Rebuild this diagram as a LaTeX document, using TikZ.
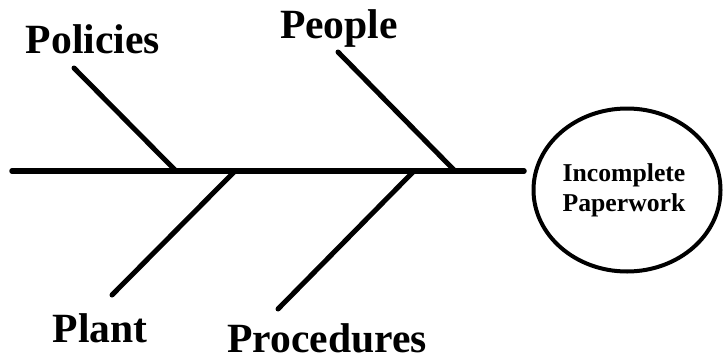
\documentclass[tikz,border=0pt]{standalone}
\usepackage{fontspec}
\setmainfont{Liberation Serif}
\usetikzlibrary{shapes.geometric}
\tikzset{
  bonelabel/.style={font=\fontsize{41.6}{44}\selectfont\bfseries, anchor=base, inner sep=0pt},
  bone/.style={line width=5pt, line cap=round},
  spine/.style={line width=5.5pt, line cap=round},
  effectbox/.style={draw, ellipse, line width=4pt, minimum width=187pt, minimum height=163pt, inner sep=0pt},
  effecttext/.style={align=center, inner sep=0pt, font=\fontsize{25.7}{30}\selectfont\bfseries}
}
\begin{document}
\begin{tikzpicture}[x=1pt,y=-1pt]
\useasboundingbox (0,0) rectangle (723,362);
% effect
\node[effectbox] (effect) at (627,190) {};
\node[effecttext] (effecttxt) at (624,190) {Incomplete\\Paperwork};
% spine
\coordinate (tail) at (12,171);
\coordinate (head) at (524,171);
\draw[spine] (tail) -- (head);
% labels
\node[bonelabel] (policies) at (93,53) {Policies};
\node[bonelabel] (people) at (339,38) {People};
\node[bonelabel] (plant) at (100,342) {Plant};
\node[bonelabel] (procedures) at (327,352) {Procedures};
% bone ends
\coordinate (polA) at (74,68);   \coordinate (polB) at (176,171);
\coordinate (peoA) at (338,52);  \coordinate (peoB) at (455,171);
\coordinate (plaA) at (112,295); \coordinate (plaB) at (235,171);
\coordinate (proA) at (278,309); \coordinate (proB) at (414,171);
\draw[bone] (polA) -- (polB);
\draw[bone] (peoA) -- (peoB);
\draw[bone] (plaA) -- (plaB);
\draw[bone] (proA) -- (proB);
\end{tikzpicture}
\end{document}
